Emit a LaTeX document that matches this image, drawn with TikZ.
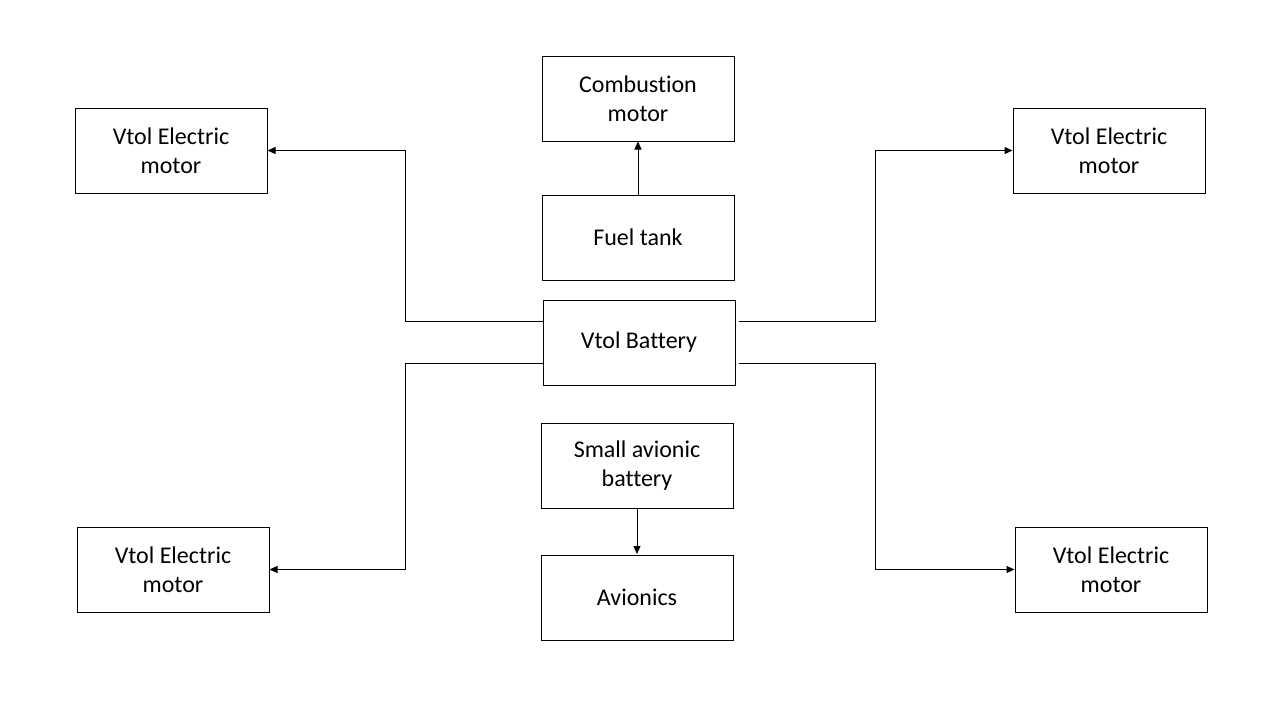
\documentclass[tikz,border=0pt]{standalone}
\usepackage{fontspec}
\setmainfont{Carlito}[Ligatures={NoCommon,TeX}]
\usetikzlibrary{arrows.meta}
\begin{document}
\begin{tikzpicture}[x=1pt,y=-1pt,
  box/.style={draw, line width=1pt, minimum width=192pt, minimum height=85pt, align=center, inner sep=0pt, font=\fontsize{24}{29}\selectfont},
  conn/.style={line width=1pt, -{Triangle[length=8pt,width=7pt]}}]
\useasboundingbox[fill=white] (0,0) rectangle (1280,720);
\node[box] (comb) at (638,98.5) {Combustion\\motor};
\node[box] (fuel) at (638,237.5) {Fuel tank};
\node[box] (bat) at (639,342.5) {Vtol Battery};
\node[box] (sab) at (637,465.5) {Small avionic\\battery};
\node[box] (avi) at (637,597.5) {Avionics};
\node[box] (vl1) at (171,150.5) {Vtol Electric\\motor};
\node[box] (vr1) at (1109,150.5) {Vtol Electric\\motor};
\node[box] (vl2) at (173,569.5) {Vtol Electric\\motor};
\node[box] (vr2) at (1111,569.5) {Vtol Electric\\motor};
\draw[conn] (fuel.north) -- (comb.south);
\draw[conn] (sab.south) -- (avi.south |- sab.south) -- ([yshift=0.5pt]avi.north);
\draw[conn] ([yshift=21.5pt]bat.west) -- ++(-137,0) |- (vl1.east);
\draw[conn] ([yshift=-20.5pt]bat.west) -- ++(-137,0) |- (vl2.east);
\draw[conn] ([xshift=3pt,yshift=21.5pt]bat.east) -- ++(137,0) |- (vr1.west);
\draw[conn] ([xshift=3pt,yshift=-20.5pt]bat.east) -- ++(137,0) |- (vr2.west);
\end{tikzpicture}
\end{document}
